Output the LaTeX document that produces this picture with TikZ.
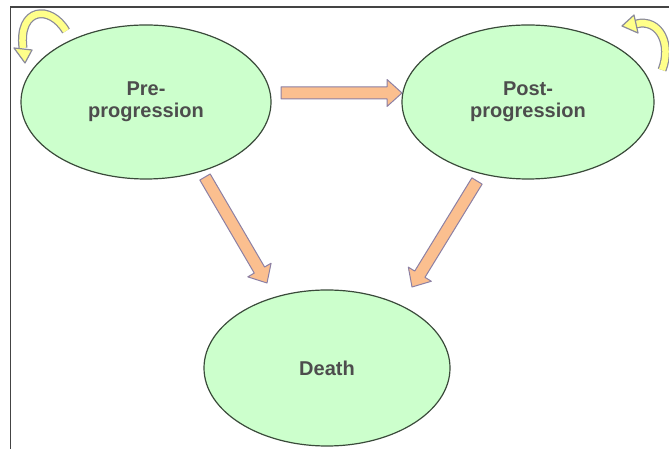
\documentclass[tikz,border=0pt]{standalone}
\usepackage{fontspec}
\setmainfont{Liberation Sans}
\usetikzlibrary{shapes.geometric,calc}
\definecolor{stategreen}{HTML}{CCFFCC}
\definecolor{stateline}{HTML}{3A4A3A}
\definecolor{arrowfill}{HTML}{FBBF8F}
\definecolor{arrowline}{HTML}{8C80A4}
\definecolor{loopfill}{HTML}{FFFF8A}
\definecolor{loopline}{HTML}{8A8A9A}
\definecolor{textgray}{HTML}{4D4D4D}
\definecolor{framegray}{HTML}{444444}
\tikzset{
  state/.style={ellipse, draw=stateline, line width=1.2pt, fill=stategreen,
    inner sep=0pt, align=center, text=textgray,
    font=\fontsize{20}{22}\selectfont\bfseries},
  blockarrow/.style={fill=arrowfill, draw=arrowline, line width=1pt, line join=round},
  loopborder/.style={draw=loopline, line width=9pt},
  loopbody/.style={draw=loopfill, line width=6.5pt},
  loophead/.style={fill=loopfill, draw=loopline, line width=1.2pt, line join=round},
  framestyle/.style={draw=framegray, line width=1.6pt}
}
\newcommand\fatarrow[2]{%
  \coordinate (fa-h) at ($(#2)!15pt!(#1)$);
  \draw[blockarrow] ($(#1)!6pt!90:(#2)$) -- ($(fa-h)!6pt!90:(#2)$)
    -- ($(fa-h)!13.5pt!90:(#2)$) -- (#2) -- ($(fa-h)!13.5pt!-90:(#2)$)
    -- ($(fa-h)!6pt!-90:(#2)$) -- ($(#1)!6pt!-90:(#2)$) -- cycle;
}
\begin{document}
\begin{tikzpicture}[x=1pt,y=1pt]
\useasboundingbox (0,0) rectangle (669,449);
% frame
\draw[framestyle] (10.5,0) -- (10.5,442) -- (669,442);
% self loops (yellow)
\draw[loopborder] (66,418) .. controls (50,445) and (18,441) .. (23,401);
\draw[loopbody] (66,418) .. controls (50,445) and (18,441) .. (23,401);
\draw[loophead] (14,401) -- (32,399) -- (25,386) -- cycle;
\draw[loopborder] (662,379) .. controls (672,404) and (660,431) .. (636,425);
\draw[loopbody] (662,379) .. controls (672,404) and (660,431) .. (636,425);
\draw[loophead] (638,416) -- (634,434) -- (622,423) -- cycle;
% states
\node[state, minimum width=250pt, minimum height=154pt] (pre) at (146,347) {Pre-\\progression};
\node[state, minimum width=252pt, minimum height=154pt] (post) at (528,347) {Post-\\progression};
\node[state, minimum width=246pt, minimum height=156pt] (death) at (327,81) {Death};
% transitions
\coordinate (h1) at (281,356);
\coordinate (h2) at (402,356);
\coordinate (l1) at (205,272);
\coordinate (l2) at (267,166);
\coordinate (r1) at (477,268);
\coordinate (r2) at (412,162);
\fatarrow{h1}{h2}
\fatarrow{l1}{l2}
\fatarrow{r1}{r2}
\end{tikzpicture}
\end{document}
